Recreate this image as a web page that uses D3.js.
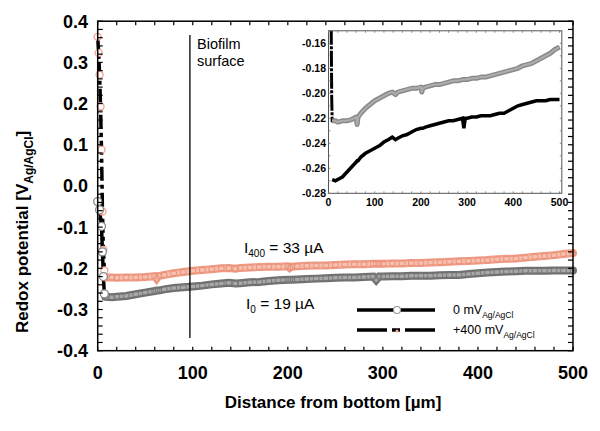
<!DOCTYPE html>
<html><head><meta charset="utf-8">
<script src="https://cdn.jsdelivr.net/npm/d3@7"></script>
<style>body{margin:0;background:#fff}svg{display:block;font-family:Arial,"Liberation Sans",sans-serif}</style>
</head><body>
<svg id="c" width="600" height="431"></svg>
<script>
// ---- data ----
const xTicks = [0, 100, 200, 300, 400, 500];
const yTicks = [-0.4, -0.3, -0.2, -0.1, 0.0, 0.1, 0.2, 0.3, 0.4];
const insetXTicks = [0, 100, 200, 300, 400, 500];
const insetYTicks = [-0.28, -0.26, -0.24, -0.22, -0.20, -0.18, -0.16];

// initial descent near the electrode start
const descentDepth400 = [0, 1, 2, 3, 4, 5, 6, 7];
const descentValue400 = [0.362, 0.323, 0.27, 0.193, 0.088, -0.062, -0.155, -0.205];
const descentDepth0 = [0, 2, 4, 5, 6, 7];
const descentValue0 = [-0.038, -0.058, -0.098, -0.16, -0.22, -0.262];

// profile through the biofilm
const depth = [8,15,20,30,40,50,60,62,64,70,80,90,100,110,120,130,138,145,150,160,170,180,190,200,202,204,210,220,230,240,250,260,270,280,290,293,296,300,310,320,330,340,350,360,370,380,390,400,410,420,430,440,450,460,470,480,490,500];
const value400 = [-0.222,-0.222,-0.223,-0.222,-0.222,-0.221,-0.219,-0.225,-0.219,-0.216,-0.212,-0.209,-0.206,-0.204,-0.202,-0.200,-0.199,-0.201,-0.199,-0.198,-0.197,-0.196,-0.196,-0.195,-0.199,-0.196,-0.195,-0.194,-0.193,-0.193,-0.192,-0.191,-0.190,-0.190,-0.189,-0.189,-0.189,-0.189,-0.188,-0.188,-0.187,-0.187,-0.186,-0.185,-0.184,-0.183,-0.182,-0.181,-0.180,-0.178,-0.177,-0.176,-0.174,-0.172,-0.170,-0.168,-0.165,-0.163];
const value0 = [-0.269,-0.270,-0.269,-0.267,-0.263,-0.259,-0.255,-0.254,-0.254,-0.251,-0.248,-0.246,-0.244,-0.242,-0.239,-0.237,-0.235,-0.237,-0.236,-0.234,-0.233,-0.231,-0.229,-0.228,-0.228,-0.228,-0.227,-0.226,-0.225,-0.224,-0.223,-0.222,-0.222,-0.221,-0.220,-0.228,-0.220,-0.220,-0.219,-0.219,-0.218,-0.218,-0.218,-0.217,-0.216,-0.216,-0.214,-0.212,-0.210,-0.209,-0.208,-0.207,-0.206,-0.206,-0.206,-0.205,-0.205,-0.205];

const biofilmSurface = 97;

// ---- drawing ----
const svg = d3.select("#c");
const x = d3.scaleLinear().domain([0, 500]).range([97.7, 573]);
const y = d3.scaleLinear().domain([-0.4, 0.4]).range([350.7, 21.2]);

const pts = (xs, vs) => xs.map((d, i) => [d, vs[i]]);
const full400 = pts(descentDepth400, descentValue400).concat(pts(depth, value400));
const full0 = pts(descentDepth0, descentValue0).concat(pts(depth, value0));
const prof400 = pts(depth, value400);
const prof0 = pts(depth, value0);

const line = d3.line().x(d => x(d[0])).y(d => y(d[1]));

// lines
svg.append("path").attr("d", line(full0)).attr("fill", "none").attr("stroke", "#000").attr("stroke-width", 3.5);
svg.append("path").attr("d", line(full400)).attr("fill", "none").attr("stroke", "#000").attr("stroke-width", 3.5)
  .attr("stroke-dasharray", "14,4,4,4");

// bands of markers
svg.append("path").attr("d", line(prof0)).attr("fill", "none").attr("stroke", "#6f6f6f").attr("stroke-width", 8).attr("stroke-linecap", "round");
svg.append("path").attr("d", line(prof0)).attr("fill", "none").attr("stroke", "#a8a8a8").attr("stroke-width", 3.5);
svg.append("g").selectAll("circle").data(prof0).join("circle")
  .attr("cx", d => x(d[0])).attr("cy", d => y(d[1])).attr("r", 3)
  .attr("fill", "none").attr("stroke", "#777").attr("stroke-width", 1);

svg.append("path").attr("d", line(prof400)).attr("fill", "none").attr("stroke", "#ee9c86").attr("stroke-width", 8).attr("stroke-linecap", "round");
svg.append("path").attr("d", line(prof400)).attr("fill", "none").attr("stroke", "#f7bfae").attr("stroke-width", 3.5);
svg.append("g").selectAll("circle").data(prof400).join("circle")
  .attr("cx", d => x(d[0])).attr("cy", d => y(d[1])).attr("r", 3)
  .attr("fill", "none").attr("stroke", "#ec9078").attr("stroke-width", 1);

// descent markers
svg.append("g").selectAll("circle").data(pts(descentDepth400, descentValue400)).join("circle")
  .attr("cx", d => x(d[0])).attr("cy", d => y(d[1])).attr("r", 3.5)
  .attr("fill", "#fff").attr("stroke", "#f4a08a").attr("stroke-width", 1.3);
svg.append("g").selectAll("circle").data(pts(descentDepth0, descentValue0)).join("circle")
  .attr("cx", d => x(d[0])).attr("cy", d => y(d[1])).attr("r", 4)
  .attr("fill", "#fff").attr("stroke", "#888").attr("stroke-width", 1.3);

// frame + ticks
const [x0, x1] = x.range(); const [yb, yt] = y.range();
svg.append("rect").attr("x", x0).attr("y", yt).attr("width", x1 - x0).attr("height", yb - yt)
  .attr("fill", "none").attr("stroke", "#000").attr("stroke-width", 1.5);
const minorX = d3.range(0, 501, 20);
const minorY = d3.range(-40, 41, 2).map(v => v / 100);
const tk = svg.append("g").attr("stroke", "#000").attr("stroke-width", 1.2);
minorX.forEach(v => {
  tk.append("line").attr("x1", x(v)).attr("x2", x(v)).attr("y1", yb).attr("y2", yb - 4);
  tk.append("line").attr("x1", x(v)).attr("x2", x(v)).attr("y1", yt).attr("y2", yt + 4);
});
minorY.forEach(v => {
  tk.append("line").attr("x1", x0).attr("x2", x0 + 5).attr("y1", y(v)).attr("y2", y(v));
  tk.append("line").attr("x1", x1).attr("x2", x1 - 5).attr("y1", y(v)).attr("y2", y(v));
});

// tick labels
svg.append("g").selectAll("text").data(xTicks).join("text")
  .attr("x", d => x(d)).attr("y", 378.5).attr("text-anchor", "middle")
  .attr("font-size", 18).attr("font-weight", "bold").text(d => d);
svg.append("g").selectAll("text").data(yTicks).join("text")
  .attr("x", 88).attr("y", d => y(d)).attr("dy", "0.36em").attr("text-anchor", "end")
  .attr("font-size", 18).attr("font-weight", "bold").text(d => d3.format(".1f")(d).replace("−", "-"));

// axis titles
svg.append("text").attr("x", 333).attr("y", 407.5).attr("text-anchor", "middle")
  .attr("font-size", 17).attr("font-weight", "bold").text("Distance from bottom [\u00b5m]");
const yt2 = svg.append("text").attr("transform", "translate(28,333) rotate(-90)")
  .attr("font-size", 17).attr("font-weight", "bold");
yt2.append("tspan").text("Redox potential [V");
yt2.append("tspan").attr("font-size", 12).attr("dy", 5).text("Ag/AgCl");
yt2.append("tspan").attr("dy", -5).text("]");

// biofilm surface
svg.append("line").attr("x1", x(biofilmSurface)).attr("x2", x(biofilmSurface)).attr("y1", 35).attr("y2", 338)
  .attr("stroke", "#000").attr("stroke-width", 1.3);
svg.append("text").attr("x", 197).attr("y", 48.5).attr("font-size", 14.5).text("Biofilm");
svg.append("text").attr("x", 197).attr("y", 66).attr("font-size", 14.5).text("surface");

// current labels
const t1 = svg.append("text").attr("x", 244).attr("y", 253).attr("font-size", 15.5);
t1.append("tspan").text("I");
t1.append("tspan").attr("font-size", 10).attr("dy", 4).text("400");
t1.append("tspan").attr("dy", -4).text(" = 33 \u00b5A");
const t2 = svg.append("text").attr("x", 246).attr("y", 308.5).attr("font-size", 15.5);
t2.append("tspan").text("I");
t2.append("tspan").attr("font-size", 10).attr("dy", 4).text("0");
t2.append("tspan").attr("dy", -4).text(" = 19 \u00b5A");

// legend
const lg = svg.append("g");
lg.append("line").attr("x1", 357).attr("x2", 435).attr("y1", 310).attr("y2", 310).attr("stroke", "#000").attr("stroke-width", 3.5);
lg.append("circle").attr("cx", 397).attr("cy", 310).attr("r", 3.5).attr("fill", "#fff").attr("stroke", "#999").attr("stroke-width", 1.2);
lg.append("line").attr("x1", 357).attr("x2", 435).attr("y1", 330).attr("y2", 330).attr("stroke", "#000").attr("stroke-width", 3.5)
  .attr("stroke-dasharray", "30,5,8,5,30");
lg.append("circle").attr("cx", 397).attr("cy", 331).attr("r", 1.5).attr("fill", "#f4a08a");
const l1 = lg.append("text").attr("x", 453).attr("y", 314).attr("font-size", 12.5);
l1.append("tspan").text("0 mV");
l1.append("tspan").attr("font-size", 8.5).attr("dy", 4).text("Ag/AgCl");
const l2 = lg.append("text").attr("x", 453).attr("y", 334).attr("font-size", 12.5);
l2.append("tspan").text("+400 mV");
l2.append("tspan").attr("font-size", 8.5).attr("dy", 4).text("Ag/AgCl");

// ---- inset ----
const xi = d3.scaleLinear().domain([0, 500]).range([328.5, 559.5]);
const yi = d3.scaleLinear().domain([-0.28, -0.15]).range([193.3, 30.8]);
const il = d3.line().x(d => xi(d[0])).y(d => yi(d[1]));
const ix0 = xi(0), ix1 = xi(505), iyb = yi(-0.28), iyt = yi(-0.15);
svg.append("defs").append("clipPath").attr("id", "ic").append("rect")
  .attr("x", ix0).attr("y", iyt).attr("width", ix1 - ix0).attr("height", iyb - iyt);
const ig = svg.append("g");
ig.append("rect").attr("x", ix0).attr("y", iyt).attr("width", ix1 - ix0).attr("height", iyb - iyt).attr("fill", "#fff");
const ic = ig.append("g").attr("clip-path", "url(#ic)");
ic.append("path").attr("d", il(full400)).attr("fill", "none").attr("stroke", "#000").attr("stroke-width", 3).attr("stroke-dasharray", "16,1.5,3,1.5");
ic.append("path").attr("d", il(prof400)).attr("fill", "none").attr("stroke", "#8a8a8a").attr("stroke-width", 5).attr("stroke-linejoin", "round");
ic.append("path").attr("d", il(prof400)).attr("fill", "none").attr("stroke", "#adadad").attr("stroke-width", 2).attr("stroke-linejoin", "round");
ic.append("path").attr("d", il(prof0)).attr("fill", "none").attr("stroke", "#000").attr("stroke-width", 3.5);
ig.append("rect").attr("x", ix0).attr("y", iyt).attr("width", ix1 - ix0).attr("height", iyb - iyt)
  .attr("fill", "none").attr("stroke", "#555").attr("stroke-width", 1);
const itk = ig.append("g").attr("stroke", "#777").attr("stroke-width", 0.8);
d3.range(0, 501, 20).forEach(v => {
  itk.append("line").attr("x1", xi(v)).attr("x2", xi(v)).attr("y1", iyb).attr("y2", iyb - 2);
  itk.append("line").attr("x1", xi(v)).attr("x2", xi(v)).attr("y1", iyt).attr("y2", iyt + 2);
});
d3.range(-28, -14, 1).map(v => v / 100).forEach(v => {
  itk.append("line").attr("x1", ix0).attr("x2", ix0 + 2).attr("y1", yi(v)).attr("y2", yi(v));
  itk.append("line").attr("x1", ix1).attr("x2", ix1 - 2).attr("y1", yi(v)).attr("y2", yi(v));
});
ig.append("g").selectAll("text").data(insetYTicks).join("text")
  .attr("x", 326).attr("y", d => yi(d)).attr("dy", "0.36em").attr("text-anchor", "end")
  .attr("font-size", 10.5).attr("font-weight", "bold").text(d => d3.format(".2f")(d).replace("−", "-"));
ig.append("g").selectAll("text").data(insetXTicks).join("text")
  .attr("x", d => xi(d)).attr("y", 205.5).attr("text-anchor", "middle")
  .attr("font-size", 10.5).attr("font-weight", "bold").text(d => d);
</script>
</body></html>
